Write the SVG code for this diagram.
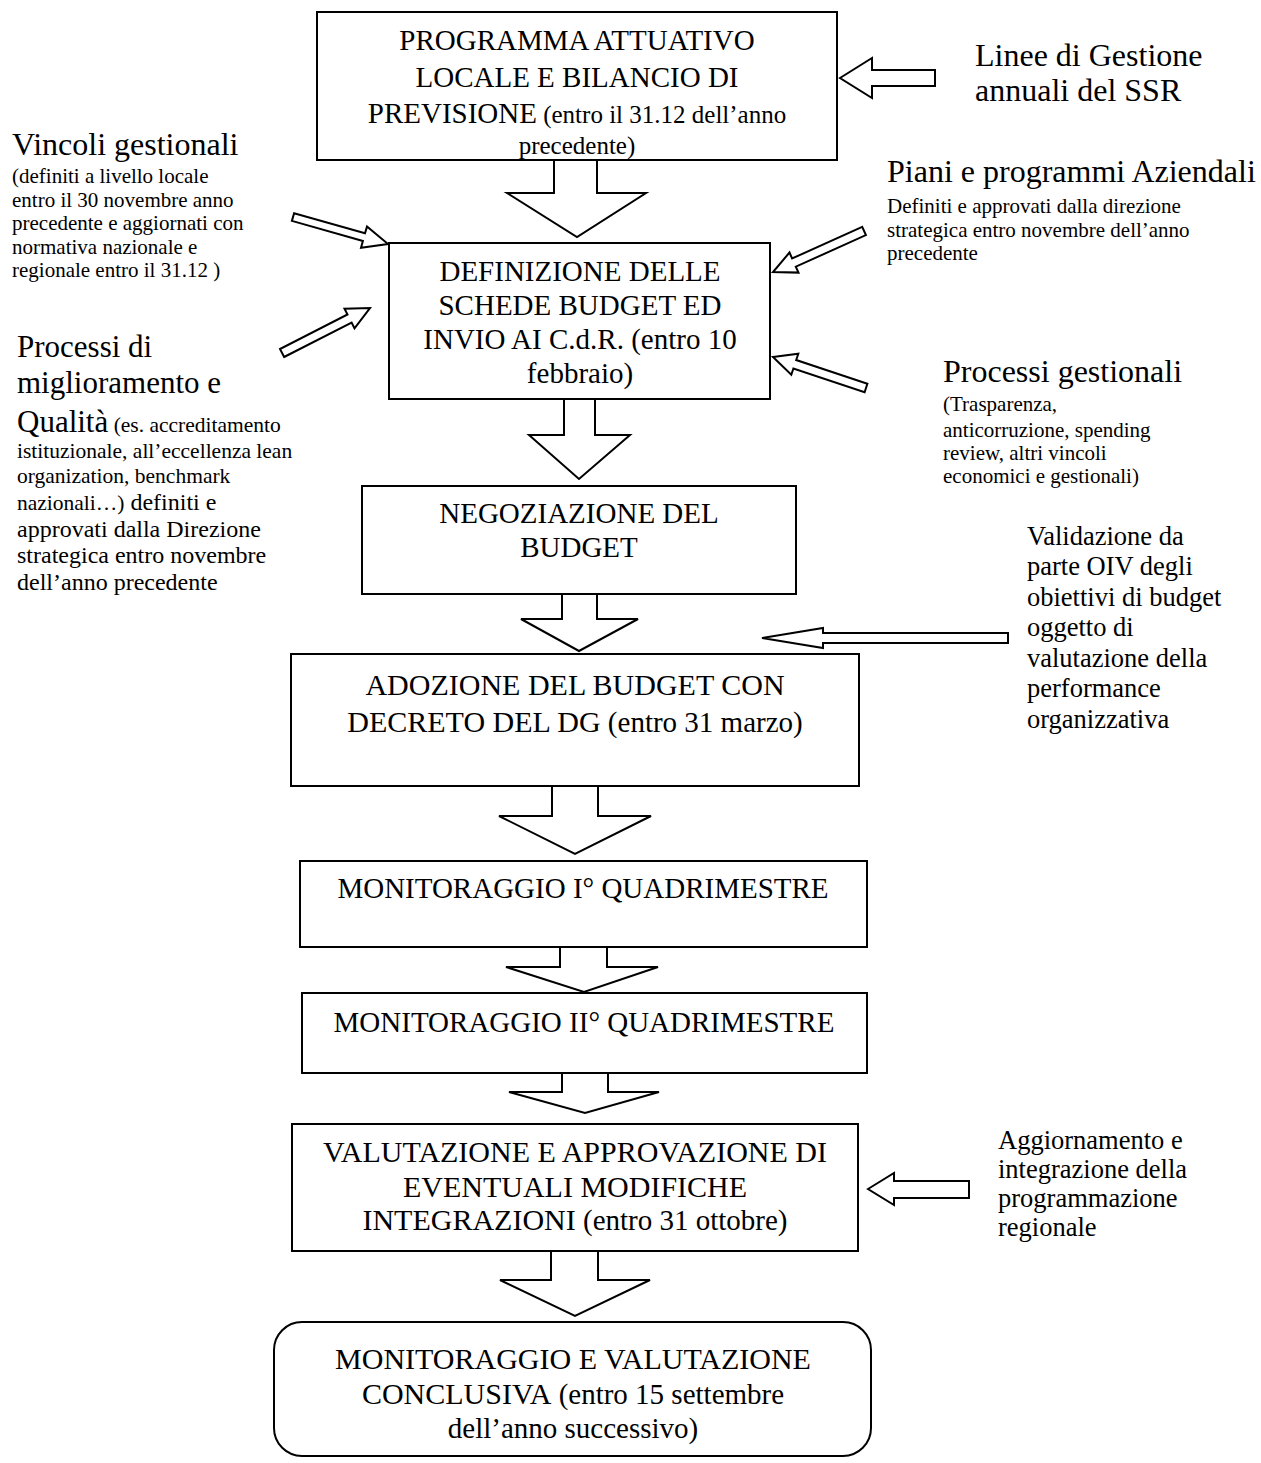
<svg xmlns="http://www.w3.org/2000/svg" width="1261" height="1463" viewBox="0 0 1261 1463">
<style>
.box{fill:#fff;stroke:#000;stroke-width:2}
.arr{fill:#fff;stroke:#000;stroke-width:2;stroke-linejoin:miter}
text{font-family:"Liberation Serif","Times New Roman",serif;fill:#000}
.bt{font-size:29px;text-anchor:middle}
.b30{font-size:30px;text-anchor:middle}
.lg{font-size:32px}
.sm{font-size:21px}
.md{font-size:26.5px}
</style>
<rect width="1261" height="1463" fill="#fff"/>
<g id="connectors">
<polygon class="arr" points="554,160 554,193 507,193 577,237 646,193 597,193 597,160"/>
<polygon class="arr" points="564,399 564,435 529,435 579,479 630,435 595,435 595,399"/>
<polygon class="arr" points="562,594 562,619 521,619 579,651 638,619 597,619 597,594"/>
<polygon class="arr" points="552,786 552,816 499,816 575,854 651,816 598,816 598,786"/>
<polygon class="arr" points="560,947 560,967 506,967 584,992 658,967 607,967 607,947"/>
<polygon class="arr" points="562,1073 562,1092 509,1092 585,1113 659,1092 608,1092 608,1073"/>
<polygon class="arr" points="551,1251 551,1280 500,1280 575,1316 650,1280 598,1280 598,1251"/>
<polygon id="a-linee" class="arr" points="840,78 872,58 872,70 935,70 935,86 872,86 872,98"/>
<polygon id="a-vincoli" class="arr" points="291.9,220.9 362.9,241.0 361.0,247.8 388,244 367.0,226.6 365.0,233.3 294.1,213.2"/>
<polygon id="a-processi" class="arr" points="284.1,357.0 351.6,322.5 354.5,328.3 370,308 344.5,308.7 347.5,314.5 280.0,349.0"/>
<polygon id="a-piani" class="arr" points="862.2,226.9 792.1,258.5 789.5,252.5 773,272 798.5,272.6 795.8,266.7 865.9,235.1"/>
<polygon id="a-gest" class="arr" points="867.4,383.7 796.2,360.0 798.3,353.8 773,357 791.3,374.7 793.4,368.5 864.6,392.3"/>
<polygon id="a-oiv" class="arr" points="762,638 823,628 823,633 1008,633 1008,643 823,643 823,648"/>
<polygon id="a-aggiorn" class="arr" points="868,1189 894,1173 894,1181 969,1181 969,1198 894,1198 894,1205"/>
</g>
<g id="n1">
<rect class="box" x="317" y="12" width="520" height="148"/>
<text class="bt" x="577" y="50">PROGRAMMA ATTUATIVO</text>
<text class="bt" x="577" y="87">LOCALE E BILANCIO DI</text>
<text class="bt" x="577" y="123">PREVISIONE<tspan style="font-size:25px"> (entro il 31.12 dell’anno</tspan></text>
<text class="bt" x="577" y="154" style="font-size:25px">precedente)</text>
</g>
<g id="n2">
<rect class="box" x="389" y="243" width="381" height="156"/>
<text class="bt" x="580" y="281">DEFINIZIONE DELLE</text>
<text class="bt" x="580" y="315">SCHEDE BUDGET ED</text>
<text class="bt" x="580" y="349">INVIO AI C.d.R. (entro 10</text>
<text class="bt" x="580" y="383">febbraio)</text>
</g>
<g id="n3">
<rect class="box" x="362" y="486" width="434" height="108"/>
<text class="bt" x="579" y="523">NEGOZIAZIONE DEL</text>
<text class="bt" x="579" y="557">BUDGET</text>
</g>
<g id="n4">
<rect class="box" x="291" y="654" width="568" height="132"/>
<text class="b30" x="575" y="695">ADOZIONE DEL BUDGET CON</text>
<text class="b30" x="575" y="732">DECRETO DEL DG<tspan style="font-size:29px"> (entro 31 marzo)</tspan></text>
</g>
<g id="n5">
<rect class="box" x="300" y="861" width="567" height="86"/>
<text class="bt" x="583" y="898">MONITORAGGIO I° QUADRIMESTRE</text>
</g>
<g id="n6">
<rect class="box" x="302" y="993" width="565" height="80"/>
<text class="bt" x="584" y="1032">MONITORAGGIO II° QUADRIMESTRE</text>
</g>
<g id="n7">
<rect class="box" x="292" y="1124" width="566" height="127"/>
<text class="b30" x="575" y="1162">VALUTAZIONE E APPROVAZIONE DI</text>
<text class="b30" x="575" y="1197">EVENTUALI MODIFICHE</text>
<text class="b30" x="575" y="1230">INTEGRAZIONI<tspan style="font-size:29px"> (entro 31 ottobre)</tspan></text>
</g>
<g id="n8">
<rect class="box" x="274" y="1322" width="597" height="134" rx="28" ry="28"/>
<text class="b30" x="573" y="1369">MONITORAGGIO E VALUTAZIONE</text>
<text class="b30" x="573" y="1404">CONCLUSIVA<tspan style="font-size:29px"> (entro 15 settembre</tspan></text>
<text class="bt" x="573" y="1438">dell’anno successivo)</text>
</g>
<g id="l-linee">
<text class="lg" x="975" y="66">Linee di Gestione</text>
<text class="lg" x="975" y="101">annuali del SSR</text>
</g>
<g id="l-vincoli">
<text class="lg" x="12" y="155">Vincoli gestionali</text>
<text class="sm" x="12" y="183">(definiti a livello locale</text>
<text class="sm" x="12" y="207">entro il 30 novembre anno</text>
<text class="sm" x="12" y="230">precedente e aggiornati con</text>
<text class="sm" x="12" y="254">normativa nazionale e</text>
<text class="sm" x="12" y="277">regionale entro il 31.12 )</text>
</g>
<g id="l-piani">
<text class="lg" x="887" y="182">Piani e programmi Aziendali</text>
<text class="sm" x="887" y="213">Definiti e approvati dalla direzione</text>
<text class="sm" x="887" y="237">strategica entro novembre dell’anno</text>
<text class="sm" x="887" y="260">precedente</text>
</g>
<g id="l-gestionali">
<text class="lg" x="943" y="382">Processi gestionali</text>
<text class="sm" x="943" y="411">(Trasparenza,</text>
<text class="sm" x="943" y="437">anticorruzione, spending</text>
<text class="sm" x="943" y="460">review, altri vincoli</text>
<text class="sm" x="943" y="483">economici e gestionali)</text>
</g>
<g id="l-miglioramento">
<text x="17" y="357" style="font-size:31px">Processi di</text>
<text x="17" y="393" style="font-size:31px">miglioramento e</text>
<text x="17" y="432"><tspan style="font-size:31px">Qualità</tspan><tspan style="font-size:21.5px"> (es. accreditamento</tspan></text>
<text x="17" y="458" style="font-size:21.5px">istituzionale, all’eccellenza lean</text>
<text x="17" y="483" style="font-size:21.5px">organization, benchmark</text>
<text x="17" y="510"><tspan style="font-size:21.5px">nazionali…)</tspan><tspan style="font-size:24px"> definiti e</tspan></text>
<text x="17" y="537" style="font-size:24px">approvati dalla Direzione</text>
<text x="17" y="563" style="font-size:24px">strategica entro novembre</text>
<text x="17" y="590" style="font-size:24px">dell’anno precedente</text>
</g>
<g id="l-oiv">
<text class="md" x="1027" y="545">Validazione da</text>
<text class="md" x="1027" y="575">parte OIV degli</text>
<text class="md" x="1027" y="606">obiettivi di budget</text>
<text class="md" x="1027" y="636">oggetto di</text>
<text class="md" x="1027" y="667">valutazione della</text>
<text class="md" x="1027" y="697">performance</text>
<text class="md" x="1027" y="728">organizzativa</text>
</g>
<g id="l-aggiorn">
<text class="md" x="998" y="1149">Aggiornamento e</text>
<text class="md" x="998" y="1178">integrazione della</text>
<text class="md" x="998" y="1207">programmazione</text>
<text class="md" x="998" y="1236">regionale</text>
</g>
</svg>
